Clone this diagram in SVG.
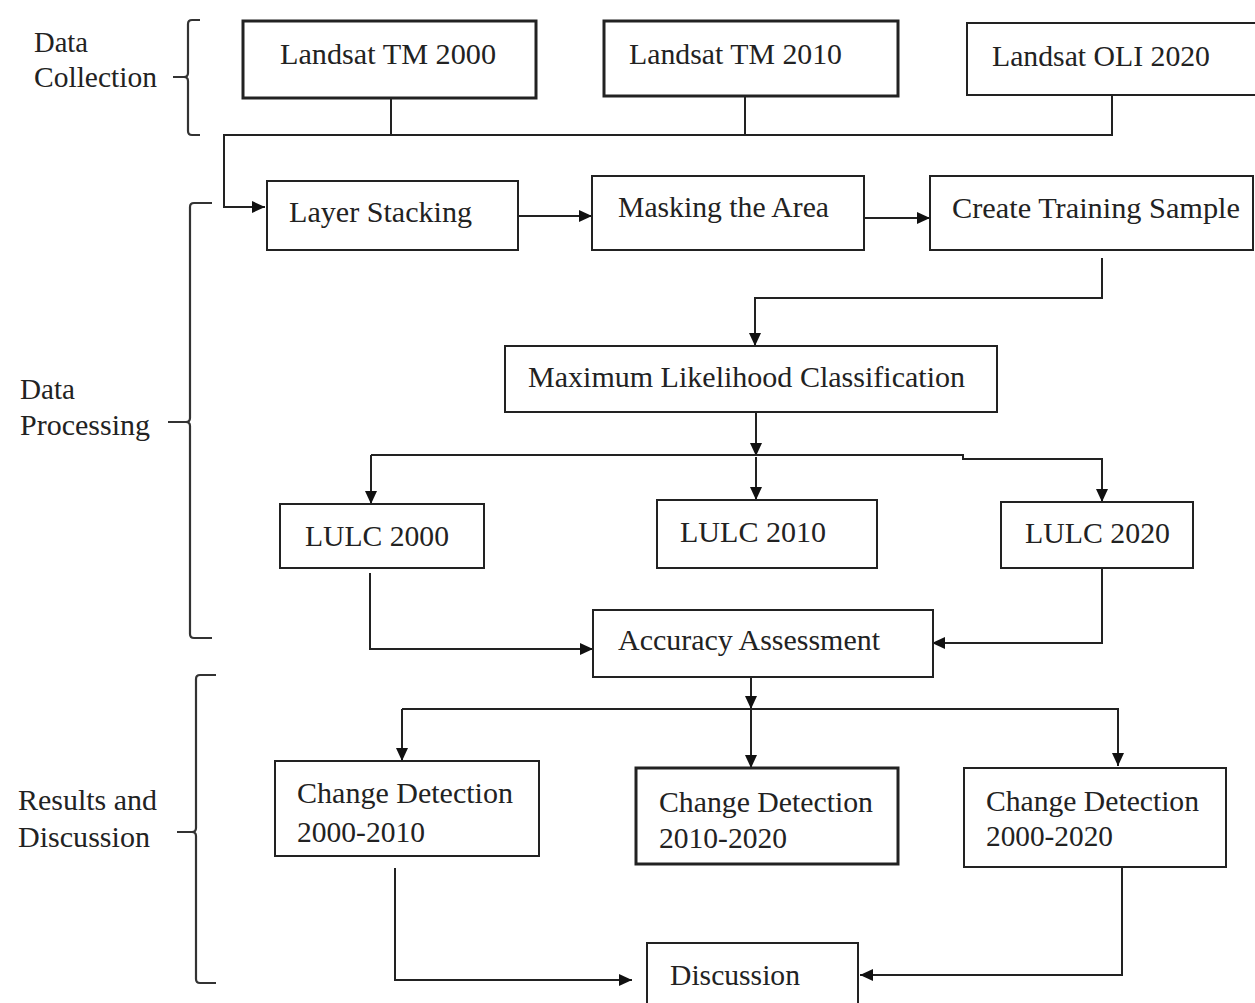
<svg xmlns="http://www.w3.org/2000/svg" width="1255" height="1003" viewBox="0 0 1255 1003">
<style>
.box{fill:#fff;stroke:#222;stroke-width:2}
.thick{stroke-width:3}
.t{font-family:"Liberation Serif","Times New Roman",serif;font-size:29px;fill:#222}
.con{fill:none;stroke:#222;stroke-width:2}
.brace{fill:none;stroke:#333;stroke-width:2.2}
</style>
<defs>
<marker id="arr" markerUnits="userSpaceOnUse" markerWidth="14" markerHeight="14" refX="13" refY="7" orient="auto">
<path d="M0,1 L13,7 L0,13 z" fill="#111"/>
</marker>
</defs>
<rect width="1255" height="1003" fill="#fff"/>

<g id="labels">
<path class="brace" d="M200,20 H192 Q188,20 188,24 V73 Q188,77 184,77 H173 M184,77 Q188,77 188,81 V131 Q188,135 192,135 H200"/>
<text class="t" x="34" y="52" textLength="54" lengthAdjust="spacingAndGlyphs">Data</text>
<text class="t" x="34" y="87" textLength="123" lengthAdjust="spacingAndGlyphs">Collection</text>
<path class="brace" d="M212,203 H194 Q190,203 190,207 V418 Q190,422 186,422 H168 M186,422 Q190,422 190,426 V634 Q190,638 194,638 H212"/>
<text class="t" x="20" y="399" textLength="55" lengthAdjust="spacingAndGlyphs">Data</text>
<text class="t" x="20" y="435" textLength="130" lengthAdjust="spacingAndGlyphs">Processing</text>
<path class="brace" d="M216,675 H200 Q196,675 196,679 V828 Q196,832 192,832 H177 M192,832 Q196,832 196,836 V979 Q196,983 200,983 H216"/>
<text class="t" x="18" y="810" textLength="139" lengthAdjust="spacingAndGlyphs">Results and</text>
<text class="t" x="18" y="847" textLength="132" lengthAdjust="spacingAndGlyphs">Discussion</text>
</g>

<g id="connectors">
<path class="con" d="M391,98 V135 M745,96 V135 M1112,95 V135 H224 V207 H265" marker-end="url(#arr)"/>
<path class="con" d="M518,216 H592" marker-end="url(#arr)"/>
<path class="con" d="M864,218 H930" marker-end="url(#arr)"/>
<path class="con" d="M1102,258 V298 H755 V346" marker-end="url(#arr)" stroke-width="2.5"/>
<path class="con" d="M756,412 V456" marker-end="url(#arr)"/>
<path class="con" d="M371,455 H963 V459 H1102 V502" marker-end="url(#arr)"/>
<path class="con" d="M371,455 V504" marker-end="url(#arr)"/>
<path class="con" d="M756,457 V500" marker-end="url(#arr)"/>
<path class="con" d="M370,573 V649 H593" marker-end="url(#arr)"/>
<path class="con" d="M1102,568 V643 H932" marker-end="url(#arr)" stroke-width="2.5"/>
<path class="con" d="M751,677 V709" marker-end="url(#arr)" stroke-width="2.5"/>
<path class="con" d="M402,709 H1118 V766" marker-end="url(#arr)"/>
<path class="con" d="M402,709 V761" marker-end="url(#arr)"/>
<path class="con" d="M751,709 V768" marker-end="url(#arr)" stroke-width="2.5"/>
<path class="con" d="M395,868 V980 H632" marker-end="url(#arr)"/>
<path class="con" d="M1122,866 V975 H860" marker-end="url(#arr)" stroke-width="2.5"/>
</g>

<g id="landsat2000"><rect class="box thick" x="243" y="21" width="293" height="77"/><text class="t" x="280" y="64" textLength="216" lengthAdjust="spacingAndGlyphs">Landsat TM 2000</text></g>
<g id="landsat2010"><rect class="box thick" x="604" y="21" width="294" height="75"/><text class="t" x="629" y="64" textLength="213" lengthAdjust="spacingAndGlyphs">Landsat TM 2010</text></g>
<g id="landsat2020"><rect class="box" x="967" y="23" width="300" height="72"/><text class="t" x="992" y="66" textLength="218" lengthAdjust="spacingAndGlyphs">Landsat OLI 2020</text></g>

<g id="layerstacking"><rect class="box" x="267" y="181" width="251" height="69"/><text class="t" x="289" y="222" textLength="183" lengthAdjust="spacingAndGlyphs">Layer Stacking</text></g>
<g id="masking"><rect class="box" x="592" y="176" width="272" height="74"/><text class="t" x="618" y="217" textLength="211" lengthAdjust="spacingAndGlyphs">Masking the Area</text></g>
<g id="training"><rect class="box" x="930" y="176" width="323" height="74"/><text class="t" x="952" y="218" textLength="288" lengthAdjust="spacingAndGlyphs">Create Training Sample</text></g>

<g id="mlc"><rect class="box" x="505" y="346" width="492" height="66"/><text class="t" x="528" y="387" textLength="437" lengthAdjust="spacingAndGlyphs">Maximum Likelihood Classification</text></g>

<g id="lulc2000"><rect class="box" x="280" y="504" width="204" height="64"/><text class="t" x="305" y="546" textLength="144" lengthAdjust="spacingAndGlyphs">LULC 2000</text></g>
<g id="lulc2010"><rect class="box" x="657" y="500" width="220" height="68"/><text class="t" x="680" y="542" textLength="146" lengthAdjust="spacingAndGlyphs">LULC 2010</text></g>
<g id="lulc2020"><rect class="box" x="1001" y="502" width="192" height="66"/><text class="t" x="1025" y="543" textLength="145" lengthAdjust="spacingAndGlyphs">LULC 2020</text></g>

<g id="accuracy"><rect class="box" x="593" y="610" width="340" height="67" stroke-width="2.5"/><text class="t" x="618" y="650" textLength="262" lengthAdjust="spacingAndGlyphs">Accuracy Assessment</text></g>

<g id="cd1"><rect class="box" x="275" y="761" width="264" height="95"/><text class="t" x="297" y="803" textLength="216" lengthAdjust="spacingAndGlyphs">Change Detection</text><text class="t" x="297" y="842" textLength="128" lengthAdjust="spacingAndGlyphs">2000-2010</text></g>
<g id="cd2"><rect class="box thick" x="636" y="768" width="262" height="96"/><text class="t" x="659" y="812" textLength="214" lengthAdjust="spacingAndGlyphs">Change Detection</text><text class="t" x="659" y="848" textLength="128" lengthAdjust="spacingAndGlyphs">2010-2020</text></g>
<g id="cd3"><rect class="box" x="964" y="768" width="262" height="99" stroke-width="2.5"/><text class="t" x="986" y="811" textLength="213" lengthAdjust="spacingAndGlyphs">Change Detection</text><text class="t" x="986" y="846" textLength="127" lengthAdjust="spacingAndGlyphs">2000-2020</text></g>

<g id="discussion"><rect class="box" x="647" y="943" width="211" height="70" stroke-width="2.5"/><text class="t" x="670" y="985" textLength="130" lengthAdjust="spacingAndGlyphs">Discussion</text></g>
</svg>
